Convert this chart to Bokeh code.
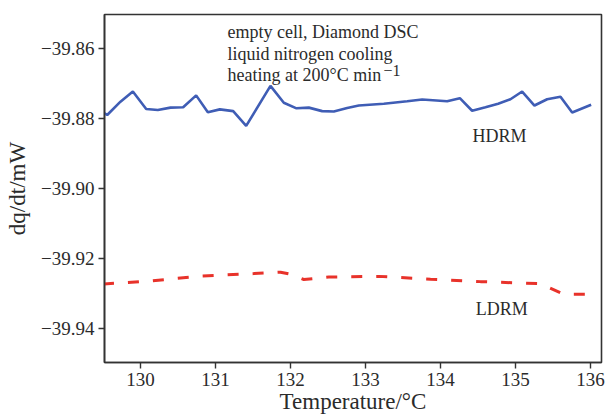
from bokeh.plotting import figure
from bokeh.models import FixedTicker, CustomJSTickFormatter, Label, Range1d
from bokeh.embed import file_html
from bokeh.resources import INLINE

# HDRM trace
hdrm_t = [129.50, 129.556, 129.733, 129.898, 130.076, 130.231, 130.40, 130.569, 130.742,
          130.898, 131.058, 131.236, 131.409, 131.733, 131.911, 132.08, 132.244, 132.422,
          132.578, 132.756, 132.911, 133.244, 133.556, 133.756, 134.089, 134.258, 134.422,
          134.60, 134.769, 134.933, 135.089, 135.253, 135.422, 135.60, 135.756, 136.009]
hdrm_q = [-39.8783, -39.8790, -39.8752, -39.8723, -39.8773, -39.8776, -39.8769, -39.8768,
          -39.8734, -39.8782, -39.8774, -39.8779, -39.8821, -39.8707, -39.8755, -39.8771,
          -39.8769, -39.8779, -39.8780, -39.8770, -39.8763, -39.8758, -39.8751, -39.8746,
          -39.8751, -39.8742, -39.8778, -39.8768, -39.8758, -39.8745, -39.8723, -39.8763,
          -39.8745, -39.8738, -39.8783, -39.8761]

# LDRM trace
ldrm_t = [129.50, 130.133, 130.822, 131.511, 131.867, 131.978, 132.178, 132.511, 133.178,
          133.867, 134.533, 135.333, 135.644, 136.022]
ldrm_q = [-39.9273, -39.9264, -39.9250, -39.9243, -39.9239, -39.9244, -39.9260, -39.9253,
          -39.9251, -39.9259, -39.9266, -39.9272, -39.9302, -39.9302]

x_ticks = [130, 131, 132, 133, 134, 135, 136]
y_ticks = [-39.94, -39.92, -39.90, -39.88, -39.86]

FONT = "Liberation Serif"
TXT = "#2b2b2b"

p = figure(width=608, height=416, output_backend="svg", toolbar_location=None,
           x_range=Range1d(129.52, 136.147), y_range=Range1d(-39.9497, -39.8503),
           min_border_left=104, min_border_right=7, min_border_top=14, min_border_bottom=54)

p.line(hdrm_t, hdrm_q, line_color="#3f5db5", line_width=2.6)
p.line(ldrm_t, ldrm_q, line_color="#e8322a", line_width=3, line_dash="11 14")

p.xgrid.visible = False
p.ygrid.visible = False
p.outline_line_color = "#333333"
p.outline_line_width = 1.6
p.background_fill_color = "white"
p.border_fill_color = "white"

for ax in (p.xaxis[0], p.yaxis[0]):
    ax.axis_line_color = "#333333"
    ax.axis_line_width = 1.6
    ax.major_tick_line_color = "#333333"
    ax.major_tick_line_width = 1.4
    ax.major_tick_out = 6
    ax.major_tick_in = 0
    ax.minor_tick_line_color = None
    ax.major_label_text_font = FONT
    ax.major_label_text_font_size = "19px"
    ax.major_label_text_color = TXT
    ax.axis_label_text_font = FONT
    ax.axis_label_text_font_style = "normal"
    ax.axis_label_text_font_size = "23px"
    ax.axis_label_text_color = TXT

p.xaxis.ticker = FixedTicker(ticks=x_ticks)
p.yaxis.ticker = FixedTicker(ticks=y_ticks)
p.yaxis.formatter = CustomJSTickFormatter(
    code="return (tick < 0 ? '\u2212' : '') + Math.abs(tick).toFixed(2);")
p.xaxis.axis_label = "Temperature/°C"
p.yaxis.axis_label = "dq/dt/mW"
p.xaxis.major_label_standoff = 4
p.xaxis.axis_label_standoff = 0
p.yaxis.major_label_standoff = 4
p.yaxis.axis_label_standoff = 8

notes = ["empty cell, Diamond DSC", "liquid nitrogen cooling", "heating at 200°C min"]
note_y = [-39.8552, -39.8615, -39.8675]
for t, yv in zip(notes, note_y):
    p.add_layout(Label(x=131.16, y=yv, text=t, text_font=FONT, text_font_size="18px",
                       text_color=TXT, text_baseline="alphabetic"))
p.add_layout(Label(x=133.24, y=-39.8663, text="\u22121", text_font=FONT,
                   text_font_size="16px", text_color=TXT, text_baseline="alphabetic"))

p.add_layout(Label(x=134.427, y=-39.8850, text="HDRM", text_font=FONT,
                   text_font_size="18px", text_color=TXT, text_baseline="alphabetic"))
p.add_layout(Label(x=134.47, y=-39.9343, text="LDRM", text_font=FONT,
                   text_font_size="18px", text_color=TXT, text_baseline="alphabetic"))

open("out.html", "w").write(file_html(p, INLINE))
